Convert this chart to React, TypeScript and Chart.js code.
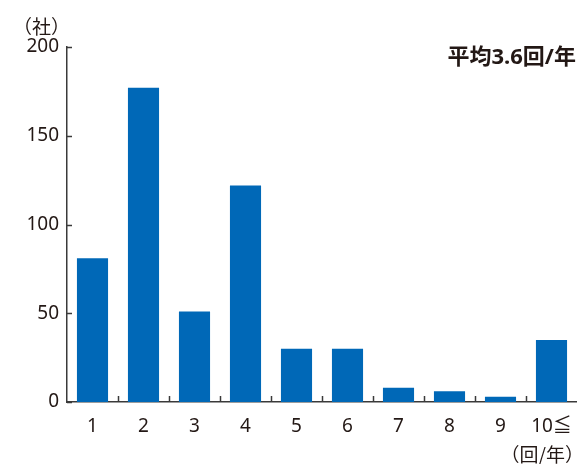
import React, { useEffect, useRef } from "react";
import { Chart, registerables } from "chart.js";

Chart.register(...registerables);

const categories = ["1", "2", "3", "4", "5", "6", "7", "8", "9", "10≦"];
const companies = [81, 177, 51, 122, 30, 30, 8, 6, 3, 35];
const yTicks = [0, 50, 100, 150, 200];
const yUnit = "（社）";
const xUnit = "（回/年）";
const averageLabel = "平均3.6回/年";

const FONT = "'Noto Sans', 'Noto Sans CJK JP', sans-serif";
const CJK = "'Noto Sans CJK JP', sans-serif";
const TEXT = "#231815";
const AXIS = "#3a3a3a";

const decorPlugin = {
  id: "decor",
  afterDraw(chart: any) {
    const ctx = chart.ctx;
    const { left, right, top, bottom } = chart.chartArea;
    const xs = chart.scales.x;
    const ys = chart.scales.y;
    ctx.save();
    ctx.strokeStyle = AXIS;
    ctx.lineWidth = 1.5;
    yTicks.forEach((v) => {
      const y = Math.round(ys.getPixelForValue(v)) + 0.5;
      ctx.beginPath();
      ctx.moveTo(left, y);
      ctx.lineTo(left + 5, y);
      ctx.stroke();
    });
    const n = categories.length;
    for (let i = 1; i < n; i++) {
      const x = Math.round((xs.getPixelForValue(i - 1) + xs.getPixelForValue(i)) / 2) + 0.5;
      ctx.beginPath();
      ctx.moveTo(x, bottom);
      ctx.lineTo(x, bottom - 6);
      ctx.stroke();
    }
    ctx.fillStyle = TEXT;
    ctx.textBaseline = "middle";
    ctx.textAlign = "right";
    ctx.font = `19px ${CJK}`;
    ctx.fillText(yUnit, left + 3, top - 20);
    ctx.fillText(xUnit, right + 7, 455);
    ctx.font = `bold 22px ${FONT}`;
    ctx.fillText(averageLabel, right - 1, 58);
    ctx.restore();
  },
};

export default function App() {
  const ref = useRef<HTMLCanvasElement>(null);
  useEffect(() => {
    document.body.style.margin = "0";
    const chart = new Chart(ref.current!, {
      type: "bar",
      data: {
        labels: categories,
        datasets: [
          {
            data: companies,
            backgroundColor: "#0068B7",
            borderWidth: 0,
            barPercentage: 0.61,
            categoryPercentage: 1,
          },
        ],
      },
      options: {
        animation: false,
        responsive: true,
        maintainAspectRatio: false,
        layout: { padding: { top: 47, right: 0, left: 0, bottom: 0 } },
        plugins: { legend: { display: false }, tooltip: { enabled: false } },
        scales: {
          x: {
            grid: { display: false, drawTicks: false },
            border: { display: true, color: AXIS, width: 1.5 },
            ticks: { color: TEXT, font: { family: FONT, size: 19 }, padding: 13, maxRotation: 0, autoSkip: false },
            afterFit: (s: any) => {
              s.height = 62;
              s.paddingRight = 0;
              s.paddingLeft = 0;
            },
          },
          y: {
            min: 0,
            max: 200,
            grid: { display: false, drawTicks: false },
            border: { display: true, color: AXIS, width: 1.5 },
            afterBuildTicks: (s: any) => {
              s.ticks = yTicks.map((v) => ({ value: v }));
            },
            ticks: { color: TEXT, font: { family: FONT, size: 19 }, padding: 8 },
            afterFit: (s: any) => {
              s.width = 67;
            },
          },
        },
      },
      plugins: [decorPlugin],
    });
    return () => chart.destroy();
  }, []);
  return (
    <div style={{ width: 577, height: 464, position: "relative" }}>
      <canvas ref={ref} />
    </div>
  );
}
